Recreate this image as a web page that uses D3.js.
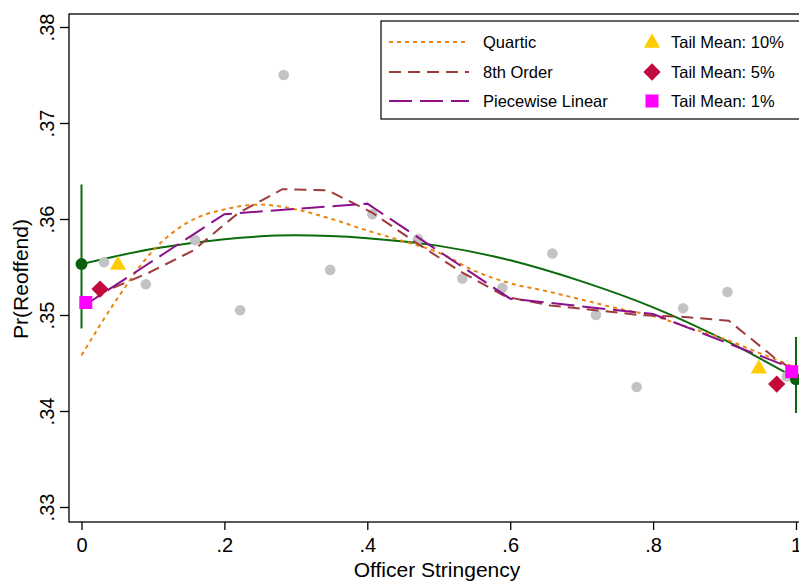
<!DOCTYPE html>
<html>
<head>
<meta charset="utf-8">
<script src="https://cdn.jsdelivr.net/npm/d3@7"></script>
<style>
  body { margin: 0; background: #fff; }
  svg { display: block; font-family: "Liberation Sans", Arial, Helvetica, sans-serif; }
</style>
</head>
<body>
<svg id="chart" width="799" height="584"></svg>
<script>
// binned scatter (grey dots)
var binX = [0.0315, 0.090, 0.159, 0.222, 0.283, 0.348, 0.407, 0.471, 0.533, 0.589, 0.659, 0.720, 0.777, 0.842, 0.904, 0.987];
var binY = [0.3555, 0.3532, 0.3578, 0.3505, 0.3750, 0.3547, 0.3605, 0.3579, 0.3538, 0.3528, 0.3564, 0.3500, 0.3425, 0.3507, 0.3524, 0.3436];

// green fit
var fitX = [0, 0.1, 0.2, 0.3, 0.4, 0.5, 0.6, 0.7, 0.8, 0.9, 1];
var fitY = [0.3553, 0.3569, 0.3579, 0.3583, 0.3580, 0.3572, 0.3557, 0.3535, 0.3508, 0.3474, 0.3434];

// quartic
var quartX = [0, 0.05, 0.1, 0.15, 0.2, 0.25, 0.3, 0.35, 0.4, 0.45, 0.5, 0.55, 0.6, 0.65, 0.7, 0.75, 0.8, 0.85, 0.9, 0.95, 1];
var quartY = [0.3458, 0.3517, 0.3567, 0.3597, 0.3610, 0.3615, 0.3610, 0.3600, 0.3588, 0.3577, 0.3565, 0.3546, 0.3533, 0.3525, 0.3516, 0.3507, 0.3499, 0.3487, 0.3475, 0.3460, 0.3445];

// 8th order
var ord8X = [0, 0.031, 0.094, 0.156, 0.219, 0.281, 0.344, 0.406, 0.469, 0.531, 0.594, 0.656, 0.719, 0.781, 0.844, 0.906, 0.969, 1];
var ord8Y = [0.3507, 0.3524, 0.3544, 0.3567, 0.3606, 0.3631, 0.3630, 0.3607, 0.3575, 0.3545, 0.3519, 0.3510, 0.3505, 0.3500, 0.3498, 0.3494, 0.3456, 0.3441];

// piecewise linear
var pwX = [0, 0.2, 0.4, 0.6, 0.8, 1];
var pwY = [0.3508, 0.3605, 0.3616, 0.3517, 0.3501, 0.3443];

// endpoints with CI
var endX = [0, 1];
var endY = [0.3553, 0.3433];
var endLo = [0.3486, 0.3398];
var endHi = [0.3636, 0.3477];

// tail means
var tail10X = [0.051, 0.948], tail10Y = [0.3553, 0.3445];
var tail5X = [0.026, 0.973], tail5Y = [0.3527, 0.3428];
var tail1X = [0.006, 0.994], tail1Y = [0.3513, 0.3441];

var xTicks = [0, 0.2, 0.4, 0.6, 0.8, 1];
var yTicks = [0.33, 0.34, 0.35, 0.36, 0.37, 0.38];

var svg = d3.select("#chart");

var x = d3.scaleLinear().domain([0, 1]).range([81.5, 796]);
var y = d3.scaleLinear().domain([0.33, 0.38]).range([507, 27]);

var plot = { left: 69, top: 14, right: 805, bottom: 522 };

function zip(xs, ys) { return xs.map(function(d, i) { return [d, ys[i]]; }); }

var line = d3.line().x(function(d) { return x(d[0]); }).y(function(d) { return y(d[1]); });
var smooth = d3.line().x(function(d) { return x(d[0]); }).y(function(d) { return y(d[1]); }).curve(d3.curveMonotoneX);

// plot region outline
svg.append("rect")
  .attr("x", plot.left).attr("y", plot.top)
  .attr("width", plot.right - plot.left).attr("height", plot.bottom - plot.top)
  .attr("fill", "none").attr("stroke", "#000").attr("stroke-width", 1.3);

// green fit line
svg.append("path").datum(zip(fitX, fitY))
  .attr("d", smooth).attr("fill", "none")
  .attr("stroke", "#0b6b0b").attr("stroke-width", 2);

// grey dots
svg.selectAll(".bin").data(zip(binX, binY)).enter().append("circle")
  .attr("class", "bin")
  .attr("cx", function(d) { return x(d[0]); })
  .attr("cy", function(d) { return y(d[1]); })
  .attr("r", 5.3)
  .attr("fill", "#c3c3c3");

var quartColor = "#e8860f", ord8Color = "#9e3c3c", pwColor = "#8b108b";

svg.append("path").datum(zip(quartX, quartY))
  .attr("d", smooth).attr("fill", "none")
  .attr("stroke", quartColor).attr("stroke-width", 2).attr("stroke-dasharray", "4,4");

svg.append("path").datum(zip(ord8X, ord8Y))
  .attr("d", line).attr("fill", "none")
  .attr("stroke", ord8Color).attr("stroke-width", 2).attr("stroke-dasharray", "12,7");

svg.append("path").datum(zip(pwX, pwY))
  .attr("d", line).attr("fill", "none")
  .attr("stroke", pwColor).attr("stroke-width", 2).attr("stroke-dasharray", "23,8");

// CI bars and endpoint dots
endX.forEach(function(d, i) {
  svg.append("line")
    .attr("x1", x(d)).attr("x2", x(d))
    .attr("y1", y(endLo[i])).attr("y2", y(endHi[i]))
    .attr("stroke", "#0b6b0b").attr("stroke-width", 2);
  svg.append("circle")
    .attr("cx", x(d)).attr("cy", y(endY[i])).attr("r", 6)
    .attr("fill", "#0b5f0b");
});

var triSym = d3.symbol().type(d3.symbolTriangle).size(115);
var diaSym = d3.symbol().type(d3.symbolSquare).size(150);

svg.selectAll(".t10").data(zip(tail10X, tail10Y)).enter().append("path")
  .attr("d", triSym)
  .attr("transform", function(d) { return "translate(" + x(d[0]) + "," + (y(d[1]) + 1) + ")"; })
  .attr("fill", "#ffcc00");

svg.selectAll(".t5").data(zip(tail5X, tail5Y)).enter().append("path")
  .attr("d", diaSym)
  .attr("transform", function(d) { return "translate(" + x(d[0]) + "," + y(d[1]) + ") rotate(45)"; })
  .attr("fill", "#c20a3c");

svg.selectAll(".t1").data(zip(tail1X, tail1Y)).enter().append("rect")
  .attr("x", function(d) { return x(d[0]) - 6.5; })
  .attr("y", function(d) { return y(d[1]) - 6.5; })
  .attr("width", 13).attr("height", 13)
  .attr("fill", "#ff00ff");

// axes
var fmt = function(d) { return d3.format(".2f")(d).replace(/^0/, ""); };
var yAxis = svg.append("g")
  .attr("transform", "translate(" + plot.left + ",0)")
  .call(d3.axisLeft(y).tickValues(yTicks).tickSize(9).tickFormat(fmt));
yAxis.select(".domain").remove();
yAxis.selectAll("line").attr("stroke-width", 1.3);
yAxis.selectAll("text")
  .attr("transform", "rotate(-90)")
  .attr("x", 0).attr("y", -15).attr("dy", 0)
  .style("text-anchor", "middle")
  .style("font-size", "20px").style("font-family", null).attr("fill", "#000");

var xfmt = function(d) { return d === 0 ? "0" : d === 1 ? "1" : d3.format(".1f")(d).replace(/^0/, ""); };
var xAxis = svg.append("g")
  .attr("transform", "translate(0," + plot.bottom + ")")
  .call(d3.axisBottom(x).tickValues(xTicks).tickSize(8).tickFormat(xfmt));
xAxis.select(".domain").remove();
xAxis.selectAll("line").attr("stroke-width", 1.3);
xAxis.selectAll("text")
  .attr("y", 30).attr("dy", 0)
  .style("font-size", "20px").style("font-family", null).attr("fill", "#000");

svg.append("text")
  .attr("x", 437).attr("y", 577)
  .attr("text-anchor", "middle")
  .style("font-size", "21px")
  .text("Officer Stringency");

svg.append("text")
  .attr("transform", "translate(28,279) rotate(-90)")
  .attr("text-anchor", "middle")
  .style("font-size", "21px")
  .text("Pr(Reoffend)");

// legend
var legend = svg.append("g");
legend.append("rect")
  .attr("x", 381).attr("y", 21).attr("width", 420).attr("height", 98)
  .attr("fill", "#fff").attr("stroke", "#000").attr("stroke-width", 1.2);

var lineItems = [
  { label: "Quartic", color: quartColor, dash: "4,4" },
  { label: "8th Order", color: ord8Color, dash: "12,7" },
  { label: "Piecewise Linear", color: pwColor, dash: "23,8" }
];
var rowY = [42, 72, 101];
lineItems.forEach(function(d, i) {
  legend.append("line")
    .attr("x1", 389).attr("x2", 469)
    .attr("y1", rowY[i]).attr("y2", rowY[i])
    .attr("stroke", d.color).attr("stroke-width", 2).attr("stroke-dasharray", d.dash);
  legend.append("text")
    .attr("x", 483).attr("y", rowY[i]).attr("dy", "0.35em")
    .style("font-size", "16.5px")
    .text(d.label);
});

legend.append("path").attr("d", triSym)
  .attr("transform", "translate(652," + (rowY[0] + 1) + ")").attr("fill", "#ffcc00");
legend.append("path").attr("d", diaSym)
  .attr("transform", "translate(652," + rowY[1] + ") rotate(45)").attr("fill", "#c20a3c");
legend.append("rect")
  .attr("x", 645.5).attr("y", rowY[2] - 6.5).attr("width", 13).attr("height", 13)
  .attr("fill", "#ff00ff");

["Tail Mean: 10%", "Tail Mean: 5%", "Tail Mean: 1%"].forEach(function(t, i) {
  legend.append("text")
    .attr("x", 671).attr("y", rowY[i]).attr("dy", "0.35em")
    .style("font-size", "16.5px")
    .text(t);
});
</script>
</body>
</html>
